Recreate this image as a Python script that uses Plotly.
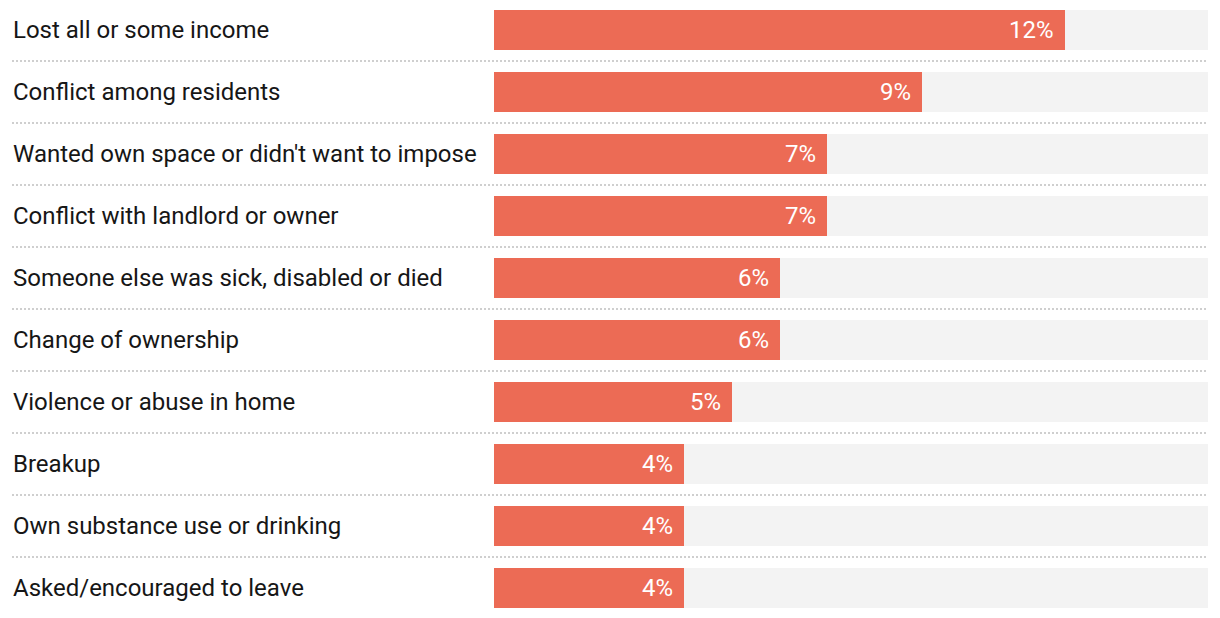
import plotly.graph_objects as go

categories = [
    "Lost all or some income",
    "Conflict among residents",
    "Wanted own space or didn't want to impose",
    "Conflict with landlord or owner",
    "Someone else was sick, disabled or died",
    "Change of ownership",
    "Violence or abuse in home",
    "Breakup",
    "Own substance use or drinking",
    "Asked/encouraged to leave",
]
values = [12, 9, 7, 7, 6, 6, 5, 4, 4, 4]
axis_max = 15

W, H = 1220, 618
L, R = 494, 12
plot_w = W - L - R
row_px = 62
first_center = 30
n = len(categories)

fig = go.Figure()
fig.add_trace(go.Bar(
    y=categories, x=[axis_max] * n, orientation="h",
    marker=dict(color="#f3f3f3", line=dict(width=0)),
    width=40 / row_px, hoverinfo="skip", showlegend=False,
))
fig.add_trace(go.Bar(
    y=categories, x=values, orientation="h",
    marker=dict(color="#ec6b55", line=dict(width=0)),
    width=40 / row_px, showlegend=False,
))

for c, v in zip(categories, values):
    fig.add_annotation(x=v, y=c, xref="x", yref="y", text=f"{v}%",
                       showarrow=False, xanchor="right", xshift=-9,
                       font=dict(family="Roboto", size=24, color="#ffffff"))
    fig.add_annotation(x=0, y=c, xref="paper", yref="y", text=c,
                       showarrow=False, xanchor="left", xshift=-(L - 11),
                       font=dict(family="Roboto", size=24, color="#161616"))

for i in range(n - 1):
    fig.add_shape(type="line", xref="paper", yref="y",
                  x0=-(L - 12) / plot_w, x1=1, y0=i + 0.5, y1=i + 0.5,
                  line=dict(color="#cfcfcf", width=2, dash="2px,2px"))

top = -first_center / row_px
bottom = (H - first_center) / row_px
fig.update_layout(
    width=W, height=H,
    margin=dict(l=L, r=R, t=0, b=0),
    barmode="overlay", bargap=0,
    plot_bgcolor="#ffffff", paper_bgcolor="#ffffff",
    xaxis=dict(range=[0, axis_max], visible=False, fixedrange=True),
    yaxis=dict(type="category", categoryorder="array", categoryarray=categories,
               range=[bottom, top], showticklabels=False, showgrid=False,
               zeroline=False, fixedrange=True),
    font=dict(family="Roboto"),
)

fig.write_html("out.html", config={"displayModeBar": False})
